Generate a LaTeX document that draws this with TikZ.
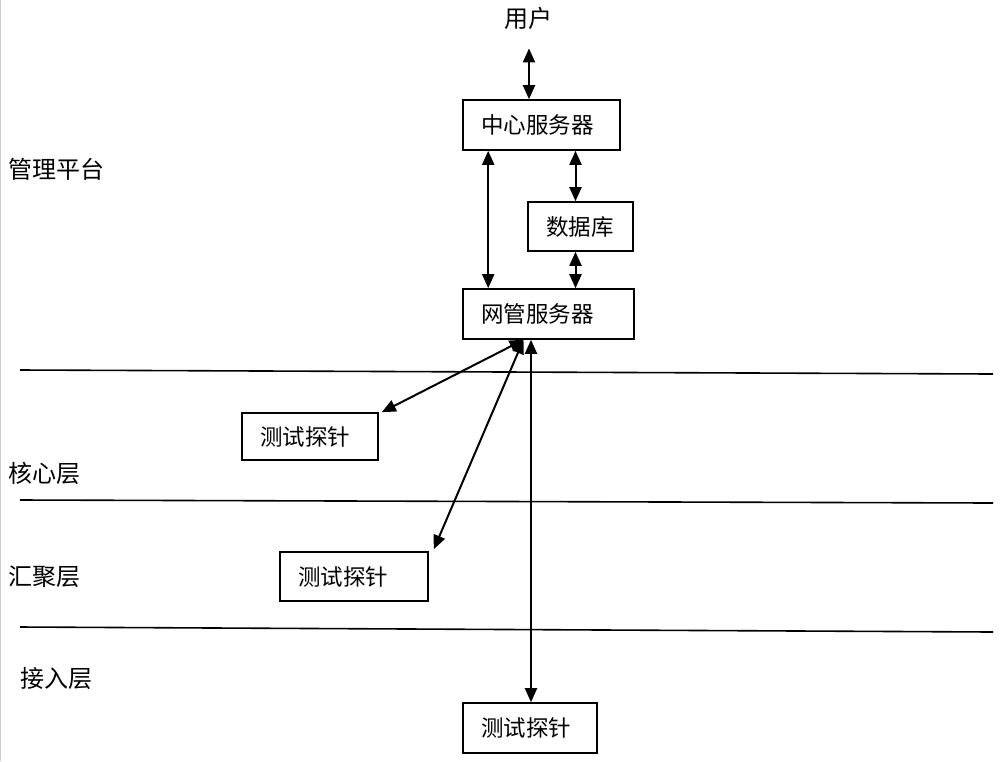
\documentclass[tikz,border=0pt]{standalone}
\usepackage{fontspec}
\newfontfamily\cjk{Noto Sans CJK SC}
\usetikzlibrary{arrows.meta}
\begin{document}
\begin{tikzpicture}[x=1pt,y=-1pt,
  boxnode/.style={draw, line width=1.6pt, font=\cjk\fontsize{22.5}{24}\selectfont, inner xsep=18pt, inner ysep=0pt, align=left},
  lbl/.style={font=\cjk\fontsize{24}{26}\selectfont, inner sep=0pt},
  biarrow/.style={line width=2pt, {Triangle[length=14pt,width=12pt]}-{Triangle[length=14pt,width=12pt]}},
  layer/.style={line width=1.6pt}]
\useasboundingbox (0,0) rectangle (1000,761);
\draw[gray!40, line width=0.5pt] (0.5,0) -- (0.5,761);
% texts
\node[lbl] (user) at (528,18) {用户};
\node[lbl, anchor=west] (mgmt) at (8,169) {管理平台};
\node[lbl, anchor=west] (core) at (8,473) {核心层};
\node[lbl, anchor=west] (agg) at (8,577) {汇聚层};
\node[lbl, anchor=west] (acc) at (20,678) {接入层};
% boxes
\node[boxnode, text width=121pt, minimum height=50pt] (cs) at (541.5,125) {中心服务器};
\node[boxnode, text width=69pt, minimum height=49pt] (db) at (580.5,226.5) {数据库};
\node[boxnode, text width=135pt, minimum height=50pt] (wg) at (548.5,314) {网管服务器};
\node[boxnode, text width=100pt, minimum height=47pt] (p1) at (310,436.5) {测试探针};
\node[boxnode, text width=112pt, minimum height=49pt] (p2) at (354,576.5) {测试探针};
\node[boxnode, text width=98pt, minimum height=50pt] (p3) at (530,728) {测试探针};
% layer lines
\coordinate (l1a) at (20,370); \coordinate (l1b) at (993,374);
\coordinate (l2a) at (20,500); \coordinate (l2b) at (993,503);
\coordinate (l3a) at (20,627); \coordinate (l3b) at (993,632);
\draw[layer] (l1a) -- (l1b);
\draw[layer] (l2a) -- (l2b);
\draw[layer] (l3a) -- (l3b);
% arrows
\draw[biarrow] ([xshift=1pt,yshift=-19pt]user.south) -- ([xshift=1pt]user.south |- cs.north);
\draw[biarrow] ([xshift=26pt]cs.south west) -- ([xshift=26pt]wg.north west);
\draw[biarrow] ([xshift=-5pt]db.north |- cs.south) -- ([xshift=-5pt]db.north);
\draw[biarrow] ([xshift=-5pt]db.south) -- ([xshift=-5pt]db.south |- wg.north);
\draw[biarrow] ([xshift=-25pt]wg.south) -- ([xshift=3pt]p1.north east);
\draw[biarrow] ([xshift=-25pt]wg.south) -- ([xshift=5pt,yshift=2pt]p2.north east);
\draw[biarrow] ([xshift=1pt]p3.north |- wg.south) -- ([xshift=1pt]p3.north);
\end{tikzpicture}
\end{document}
